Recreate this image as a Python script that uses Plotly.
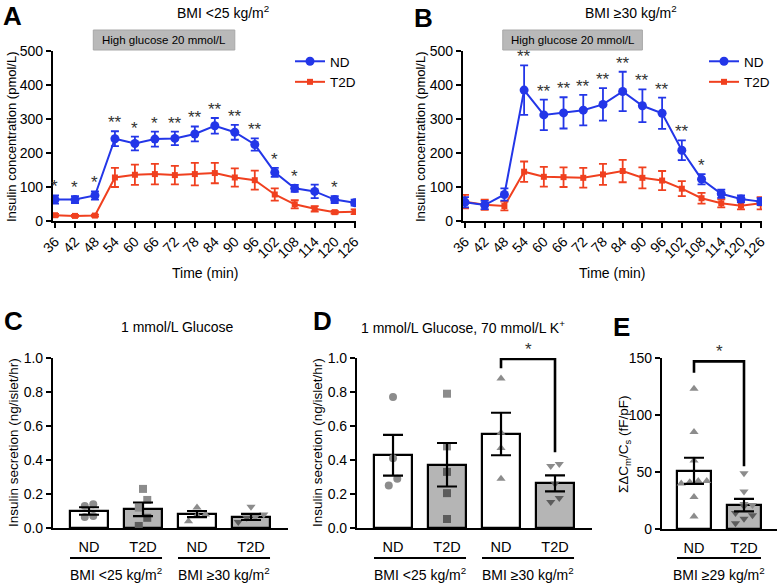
import plotly.graph_objects as go
import numpy as np

FONT = "Liberation Sans, Arial, sans-serif"
W, H = 777, 584

# ---------------- data ----------------
time_min = [36, 42, 48, 54, 60, 66, 72, 78, 84, 90, 96, 102, 108, 114, 120, 126]
glucose_window = [47.5, 90]

A_nd_mean = [63, 63, 75, 242, 228, 241, 243, 256, 280, 261, 225, 143, 96, 87, 63, 54]
A_nd_sem = [12, 10, 12, 22, 20, 22, 20, 22, 23, 22, 18, 13, 10, 20, 10, 9]
A_t2d_mean = [17, 15, 16, 128, 136, 138, 135, 138, 141, 128, 120, 78, 49, 36, 26, 27]
A_t2d_sem = [4, 3, 3, 28, 30, 30, 27, 33, 30, 27, 28, 18, 12, 8, 4, 7]
A_sig = ["*", "*", "*", "**", "*", "*", "**", "**", "**", "**", "**", "*", "*", "", "*", ""]

B_nd_mean = [55, 47, 78, 385, 312, 318, 326, 343, 381, 339, 317, 208, 123, 80, 65, 57]
B_nd_sem = [15, 12, 18, 73, 45, 46, 45, 48, 58, 48, 46, 29, 15, 12, 10, 10]
B_t2d_mean = [57, 48, 44, 145, 130, 129, 127, 137, 147, 127, 119, 95, 67, 52, 45, 52]
B_t2d_sem = [20, 15, 13, 30, 29, 29, 29, 31, 33, 31, 28, 22, 16, 12, 11, 18]
B_sig = ["", "", "", "**", "**", "**", "**", "**", "**", "**", "**", "**", "*", "", "", ""]

bar_labels = ["ND", "T2D", "ND", "T2D"]
bar_is_t2d = [False, True, False, True]
bar_symbols = ["circle", "square", "triangle-up", "triangle-down"]

C_mean = [0.100, 0.110, 0.082, 0.065]
C_sem = [0.022, 0.040, 0.018, 0.018]
C_points = [[0.14, 0.13, 0.07, 0.065],
            [0.23, 0.165, 0.12, 0.06, 0.012],
            [0.12, 0.08, 0.075, 0.04],
            [0.125, 0.08, 0.065, 0.06, 0.035]]

D_mean = [0.428, 0.372, 0.553, 0.262]
D_sem = [0.120, 0.128, 0.125, 0.047]
D_points = [[0.77, 0.41, 0.29, 0.25],
            [0.79, 0.48, 0.33, 0.205, 0.053],
            [0.88, 0.56, 0.47, 0.29],
            [0.376, 0.365, 0.26, 0.176, 0.153]]
D_bracket = dict(i0=2, i1=3, left=0.94, top=0.995, right=0.445, label="*")

E_labels = ["ND", "T2D"]
E_mean = [51, 21]
E_sem = [11.5, 5.5]
E_points = [[123, 85, 60, 42, 41, 42, 40, 28, 11],
            [49, 33, 22, 21, 20, 14, 12, 9, 5]]
E_symbols = ["triangle-up", "triangle-down"]
E_bracket = dict(i0=0, i1=1, left=137, top=147, right=55, label="*")

groups_CD = [("BMI <25 kg/m<sup>2</sup>", 0, 1), ("BMI ≥30 kg/m<sup>2</sup>", 2, 3)]
groups_E = [("BMI ≥29 kg/m<sup>2</sup>", 0, 1)]

ND_COLOR = "#2336e8"
T2D_COLOR = "#f0401f"
BAR_GRAY = "#b5b5b5"
PT_LIGHT = "#8c8c8c"
PT_DARK = "#5c5c5c"


def px(x):
    return x / W


def py(y):
    return 1 - y / H


fig = go.Figure()
annotations = []
shapes = []


def paper_text(text, x, y, size, angle=0, bold=False):
    annotations.append(dict(x=px(x), y=py(y), xref="paper", yref="paper",
                            text=("<b>%s</b>" % text) if bold else text, showarrow=False,
                            xanchor="center", yanchor="middle", textangle=angle,
                            font=dict(size=size, color="black", family=FONT)))


# ---------------- line panels ----------------
line_panels = [
    ("x", "y", "legend", A_nd_mean, A_nd_sem, A_t2d_mean, A_t2d_sem, A_sig),
    ("x2", "y2", "legend2", B_nd_mean, B_nd_sem, B_t2d_mean, B_t2d_sem, B_sig),
]
for xa, ya, leg, ndm, nds, tm, ts, sig in line_panels:
    fig.add_trace(go.Scatter(
        x=time_min, y=tm, mode="lines+markers", name="T2D", legend=leg, legendrank=2,
        xaxis=xa, yaxis=ya, line=dict(color=T2D_COLOR, width=2),
        marker=dict(symbol="square", size=6, color=T2D_COLOR),
        error_y=dict(type="data", array=ts, color=T2D_COLOR, thickness=1.8, width=4)))
    fig.add_trace(go.Scatter(
        x=time_min, y=ndm, mode="lines+markers", name="ND", legend=leg, legendrank=1,
        xaxis=xa, yaxis=ya, line=dict(color=ND_COLOR, width=2),
        marker=dict(symbol="circle", size=9, color=ND_COLOR),
        error_y=dict(type="data", array=nds, color=ND_COLOR, thickness=1.8, width=4)))
    for t, m, s, lab in zip(time_min, ndm, nds, sig):
        if lab:
            annotations.append(dict(x=t, y=m + s, xref=xa, yref=ya, text=lab, showarrow=False,
                                    xanchor="center", yanchor="bottom", yshift=-3,
                                    font=dict(size=17, color="#333", family=FONT)))
    shapes.append(dict(type="rect", xref=xa, yref="paper", x0=glucose_window[0], x1=glucose_window[1],
                       y0=py(50), y1=py(30), fillcolor="#b9b9b9", line=dict(color="#a8a8a8", width=1),
                       layer="above"))
    annotations.append(dict(x=(glucose_window[0] + glucose_window[1]) / 2, y=py(40), xref=xa, yref="paper",
                            text="High glucose 20 mmol/L", showarrow=False, xanchor="center", yanchor="middle",
                            font=dict(size=11.5, color="black", family=FONT)))


# ---------------- bar panels ----------------
def swarm(vals, ypx_per_unit, xpx_per_cat, msize=8.5):
    order = np.argsort(vals)
    offs = np.zeros(len(vals))
    rows = []
    for i in order:
        v = vals[i]
        if rows and (v - vals[rows[-1][0]]) * ypx_per_unit < msize:
            rows[-1].append(i)
        else:
            rows.append([i])
    d = msize / xpx_per_cat
    for r in rows:
        n = len(r)
        for k, i in enumerate(r):
            offs[i] = (k - (n - 1) / 2) * d
    return offs


def bar_panel(xa, ya, labels, means, sems, points, t2d, symbols, width, ypu, xpc, bracket=None):
    idx = list(range(len(labels)))
    fig.add_trace(go.Bar(
        x=idx, y=means, width=width, xaxis=xa, yaxis=ya, showlegend=False,
        marker=dict(color=[BAR_GRAY if t else "white" for t in t2d], line=dict(color="black", width=2.2))))
    for i, pts in enumerate(points):
        pts = np.array(pts, dtype=float)
        offs = swarm(pts, ypu, xpc)
        cols = [PT_DARK if (t2d[i] and p < means[i]) else PT_LIGHT for p in pts]
        fig.add_trace(go.Scatter(
            x=i + offs, y=pts, mode="markers", xaxis=xa, yaxis=ya, showlegend=False,
            marker=dict(symbol=symbols[i], size=8, color=cols, line=dict(width=0))))
    fig.add_trace(go.Scatter(
        x=idx, y=means, mode="markers", xaxis=xa, yaxis=ya, showlegend=False,
        marker=dict(size=1, opacity=0),
        error_y=dict(type="data", array=sems, color="black", thickness=2.2, width=10)))
    if bracket:
        b = bracket
        fig.add_trace(go.Scatter(
            x=[b["i0"], b["i0"], b["i1"], b["i1"]], y=[b["left"], b["top"], b["top"], b["right"]],
            mode="lines", xaxis=xa, yaxis=ya, showlegend=False,
            line=dict(color="black", width=2.6)))
        annotations.append(dict(x=(b["i0"] + b["i1"]) / 2, y=b["top"], xref=xa, yref=ya, text=b["label"],
                                showarrow=False, xanchor="center", yanchor="bottom", yshift=-2,
                                font=dict(size=17, color="#333", family=FONT)))


bar_panel("x3", "y3", bar_labels, C_mean, C_sem, C_points, bar_is_t2d, bar_symbols, 0.704, 170, 54)
bar_panel("x4", "y4", bar_labels, D_mean, D_sem, D_points, bar_is_t2d, bar_symbols, 0.704, 170, 54, D_bracket)
bar_panel("x5", "y5", E_labels, E_mean, E_sem, E_points, [False, True], E_symbols, 0.68, 170 / 150, 50, E_bracket)

for xa, groups, w in [("x3", groups_CD, 0.704), ("x4", groups_CD, 0.704), ("x5", groups_E, 0.68)]:
    for text, i0, i1 in groups:
        shapes.append(dict(type="line", xref=xa, yref="paper", x0=i0 - w / 2, x1=i1 + w / 2,
                           y0=py(558), y1=py(558), line=dict(color="black", width=2.2)))
        annotations.append(dict(x=(i0 + i1) / 2, y=py(574), xref=xa, yref="paper", text=text,
                                showarrow=False, xanchor="center", yanchor="middle",
                                font=dict(size=14, color="black", family=FONT)))

# ---------------- text ----------------
for letter, x, y in [("A", 12, 16), ("B", 424, 18), ("C", 13, 321), ("D", 322, 321), ("E", 621, 327)]:
    paper_text(letter, x, y, 26, bold=True)
for text, x, y in [("BMI <25 kg/m<sup>2</sup>", 223, 12), ("BMI ≥30 kg/m<sup>2</sup>", 631, 12),
                   ("1 mmol/L Glucose", 177, 327), ("1 mmol/L Glucose, 70 mmol/L K<sup>+</sup>", 463, 327),
                   ("Time (min)", 205, 273), ("Time (min)", 612, 273)]:
    paper_text(text, x, y, 14)
for text, x, y, s in [("Insulin concentration (pmol/L)", 11, 137, 13), ("Insulin concentration (pmol/L)", 420, 137, 13),
                      ("Insulin secretion (ng/islet/hr)", 13, 443, 13.5), ("Insulin secretion (ng/islet/hr)", 317, 443, 13.5),
                      ("ΣΔC<sub>m</sub>/C<sub>s</sub> (fF/pF)", 624, 445, 13.5)]:
    paper_text(text, x, y, s, angle=-90)


def axis(**kw):
    d = dict(showline=True, linecolor="black", linewidth=2.2, ticks="outside", ticklen=5, tickwidth=2.2,
             tickcolor="black", showgrid=False, zeroline=False, automargin=False,
             tickfont=dict(size=14, color="black", family=FONT))
    d.update(kw)
    return d


yA_dom = [py(221), py(51)]
yC_dom = [py(528), py(358)]
time_axis = dict(tickvals=time_min, tickangle=-45, range=[35.4, 126.4], fixedrange=True)
bar_x = dict(ticks="", ticklabelstandoff=4, tickfont=dict(size=14.5, color="black", family=FONT))
fig.update_layout(
    width=W, height=H, margin=dict(l=0, r=0, t=0, b=0, autoexpand=False),
    paper_bgcolor="white", plot_bgcolor="white",
    font=dict(family=FONT, color="black"),
    xaxis=axis(domain=[px(53), px(356)], anchor="y", **time_axis),
    yaxis=axis(domain=yA_dom, anchor="x", range=[0, 500], tickvals=[0, 100, 200, 300, 400, 500]),
    xaxis2=axis(domain=[px(463), px(762)], anchor="y2", **time_axis),
    yaxis2=axis(domain=yA_dom, anchor="x2", range=[0, 500], tickvals=[0, 100, 200, 300, 400, 500]),
    xaxis3=axis(domain=[px(53), px(288)], anchor="y3", range=[-0.667, 3.685], tickvals=[0, 1, 2, 3],
                ticktext=bar_labels, **bar_x),
    yaxis3=axis(domain=yC_dom, anchor="x3", range=[0, 1], tickvals=[0, 0.2, 0.4, 0.6, 0.8, 1.0], tickformat=".1f"),
    xaxis4=axis(domain=[px(357), px(592)], anchor="y4", range=[-0.667, 3.685], tickvals=[0, 1, 2, 3],
                ticktext=bar_labels, **bar_x),
    yaxis4=axis(domain=yC_dom, anchor="x4", range=[0, 1], tickvals=[0, 0.2, 0.4, 0.6, 0.8, 1.0], tickformat=".1f"),
    xaxis5=axis(domain=[px(662), px(777)], anchor="y5", range=[-0.64, 1.66], tickvals=[0, 1],
                ticktext=E_labels, **bar_x),
    yaxis5=axis(domain=[py(529), py(358)], anchor="x5", range=[0, 150], tickvals=[0, 50, 100, 150]),
    legend=dict(x=px(290), y=py(46), xanchor="left", yanchor="top", bgcolor="rgba(0,0,0,0)",
                font=dict(size=13.5, color="black", family=FONT), tracegroupgap=0),
    legend2=dict(x=px(704), y=py(46), xanchor="left", yanchor="top", bgcolor="rgba(0,0,0,0)",
                 font=dict(size=13.5, color="black", family=FONT), tracegroupgap=0),
    annotations=annotations, shapes=shapes, bargap=0,
)

fig.write_html("out.html", config={"displayModeBar": False},
               post_script="document.body.style.margin='0px';document.body.style.padding='0px';")
